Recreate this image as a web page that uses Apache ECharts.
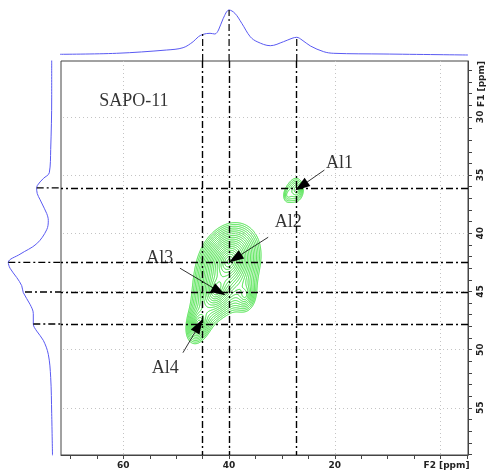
<!DOCTYPE html>
<html><head><meta charset="utf-8">
<script src="https://cdn.jsdelivr.net/npm/echarts@6/dist/echarts.min.js"></script>
<style>html,body{margin:0;padding:0;background:#fff}#c{width:487px;height:470px}</style>
</head><body><div id="c"></div>
<script>
// ---- F2 projection (top trace): chemical shift (ppm) and intensity ----
const topF2  = [72.0, 61.3, 51.8, 48.7, 46.8, 45.8, 44.9, 43.6, 42.7, 42.0, 41.1, 40.0, 38.9, 37.6, 36.0, 34.7, 32.2, 29.7, 28.1, 27.2, 26.2, 24.6, 22.1, 20.2, 10.7, -5.2];
const topInt = [0.7, 1.7, 5.0, 7.3, 13.3, 18.3, 20.7, 21.7, 21.0, 25.0, 36.7, 45.0, 41.7, 31.7, 18.3, 13.3, 9.3, 13.3, 16.7, 17.7, 15.0, 9.0, 3.3, 1.7, 1.0, 0.0];
// ---- F1 projection (left trace) ----
const leftF1  = [25.1, 28.3, 32.8, 34.8, 35.3, 35.9, 36.2, 36.3, 37.4, 38.3, 38.9, 39.7, 40.9, 41.8, 42.5, 43.0, 43.8, 44.5, 45.1, 46.1, 46.9, 47.8, 48.4, 49.2, 50.4, 52.4, 55.5, 59.1];
const leftInt = [0.8, 0.8, 1.8, 3.2, 9.2, 15.2, 15.8, 15.8, 10.8, 5.8, 4.2, 5.8, 15.8, 32.5, 44.2, 42.5, 35.8, 30.8, 29.2, 22.5, 19.2, 19.2, 15.8, 9.2, 4.2, 1.8, 0.8, 0.0];
// ---- 2D cross peaks ----
const peakF2  = [40.0, 42.3, 45.8, 37.0, 27.2, 28.9];
const peakF1  = [42.4, 44.8, 47.8, 45.3, 36.25, 36.7];
const peakAmp = [1.0, 0.5, 0.25, 0.15, 0.11, 0.06];
const peakWF2 = [1.8, 1.5, 1.15, 1.2, 1.1, 1.0];
const peakWF1 = [1.0, 0.95, 0.85, 0.85, 0.8, 0.7];
const peakRho = [0.2, 0.3, 0.3, 0.0, 0.0, 0.2];
const contourBase = 0.05, contourFactor = 1.17, contourCount = 22;
// ---- reference (dash-dot) lines ----
const vLineF2  = [45, 40, 27.2];
const vLineTop = [21, 45, 17.5];
const hLineF1   = [36.1, 42.5, 45.05, 47.8];
const hLineLeft = [15.8, 44.2, 27.5, 19.2];
// ---- axes ----
const xMajor = [60, 40, 20, 0];
const xMinor = [70, 65, 60, 55, 50, 45, 40, 35, 30, 25, 20, 15, 10, 5, 0, -5];
const yMajor = [30, 35, 40, 45, 50, 55];
const yMinor = [26,27,28,29,30,31,32,33,34,35,36,37,38,39,40,41,42,43,44,45,46,47,48,49,50,51,52,53,54,55,56,57,58,59];
// ---- annotations ----
const labelText = ['Al1', 'Al2', 'Al3', 'Al4', 'SAPO-11'];
const labelF2   = [19.1, 28.8, 53.1, 52.1, 58.0];
const labelF1   = [33.97, 39.05, 42.16, 51.64, 28.62];
const arrowTailF2 = [21.97, 32.6, 49.3, 48.73];
const arrowTailF1 = [34.57, 40.34, 43.0, 50.26];
const arrowTipF2  = [26.34, 38.86, 41.9, 45.7];
const arrowTipF1  = [35.95, 42.16, 45.0, 47.93];

const X0 = -5.2, X1 = 71.8, Y0 = 25.2, Y1 = 59.05;

// ---- intensity field and contour tracing ----
function field(x, y) {
  let s = 0;
  for (let k = 0; k < peakF2.length; k++) {
    const u = (x - peakF2[k]) / peakWF2[k], v = (y - peakF1[k]) / peakWF1[k], r = peakRho[k];
    const d2 = (u*u + v*v - 2*r*u*v) / (1 - r*r);
    s += peakAmp[k] * Math.exp(-Math.sqrt(d2 + 0.09) + 0.3);
  }
  return s;
}
const gx0 = 22, gx1 = 53, gy0 = 32, gy1 = 54, dx = 0.07, dy = 0.045;
const nx = Math.round((gx1 - gx0) / dx) + 1, ny = Math.round((gy1 - gy0) / dy) + 1;
const V = [];
for (let j = 0; j < ny; j++) { const row = new Float64Array(nx); for (let i = 0; i < nx; i++) row[i] = field(gx0 + i*dx, gy0 + j*dy); V.push(row); }

function contour(L) {
  const pts = {}, adj = {};
  const link = (a, b) => { (adj[a] = adj[a] || []).push(b); (adj[b] = adj[b] || []).push(a); };
  const interp = (xa, ya, va, xb, yb, vb) => { const t = (L - va) / (vb - va); return [xa + t*(xb - xa), ya + t*(yb - ya)]; };
  for (let j = 0; j < ny - 1; j++) {
    const y = gy0 + j*dy, yt = y + dy;
    for (let i = 0; i < nx - 1; i++) {
      const x = gx0 + i*dx, xr = x + dx;
      const v0 = V[j][i], v1 = V[j][i+1], v2 = V[j+1][i+1], v3 = V[j+1][i];
      const b0 = v0 > L, b1 = v1 > L, b2 = v2 > L, b3 = v3 > L;
      const idx = (b0?1:0) | (b1?2:0) | (b2?4:0) | (b3?8:0);
      if (idx === 0 || idx === 15) continue;
      const e = [];
      const k0 = 'h'+i+'_'+j, k1 = 'v'+(i+1)+'_'+j, k2 = 'h'+i+'_'+(j+1), k3 = 'v'+i+'_'+j;
      if (b0 !== b1) { pts[k0] = interp(x, y, v0, xr, y, v1); e.push(k0); }
      if (b1 !== b2) { pts[k1] = interp(xr, y, v1, xr, yt, v2); e.push(k1); }
      if (b3 !== b2) { pts[k2] = interp(x, yt, v3, xr, yt, v2); e.push(k2); }
      if (b0 !== b3) { pts[k3] = interp(x, y, v0, x, yt, v3); e.push(k3); }
      if (e.length === 2) link(e[0], e[1]);
      else if (e.length === 4) {
        const c = (v0 + v1 + v2 + v3) / 4 > L;
        if ((idx === 5) === c) { link(k0, k1); link(k2, k3); } else { link(k3, k0); link(k1, k2); }
      }
    }
  }
  const seen = new Set(), lines = [];
  const walk = (start) => {
    const line = [pts[start]]; seen.add(start); let cur = start;
    while (true) {
      let next = null;
      for (const n of adj[cur]) if (!seen.has(n)) { next = n; break; }
      if (next === null) { if (adj[cur].includes(start) && line.length > 2) line.push(pts[start]); break; }
      seen.add(next); line.push(pts[next]); cur = next;
    }
    lines.push(line);
  };
  const keys = Object.keys(adj);
  for (const k of keys) if (adj[k].length === 1 && !seen.has(k)) walk(k);
  for (const k of keys) if (!seen.has(k)) walk(k);
  return lines;
}
const contourData = [];
for (let n = 0; n < contourCount; n++) {
  const L = contourBase * Math.pow(contourFactor, n);
  for (const line of contour(L)) contourData.push({ coords: line });
}

// ---- build series ----
const dashDot = [7, 3, 2, 3];
const markGridX = xMajor.map(v => ({ xAxis: v }));
const markGridY = yMajor.map(v => ({ yAxis: v }));
const refX = vLineF2.map(v => ({ xAxis: v }));
const refY = hLineF1.map(v => ({ yAxis: v }));
const arrows = arrowTipF2.map((_, i) => [
  { coord: [arrowTailF2[i], arrowTailF1[i]], symbol: 'none' },
  { coord: [arrowTipF2[i], arrowTipF1[i]], symbol: 'triangle', symbolSize: [10, 15] }
]);

const series = [];
series.push({ type: 'line', xAxisIndex: 0, yAxisIndex: 0, data: [], silent: true,
  markLine: { silent: true, symbol: 'none', label: { show: false }, animation: false,
    lineStyle: { type: [1, 3], color: '#c4c4c4', width: 1 }, data: markGridX.concat(markGridY) } });
series.push({ type: 'lines', coordinateSystem: 'cartesian2d', xAxisIndex: 0, yAxisIndex: 0, polyline: true, silent: true,
  lineStyle: { color: '#33e033', width: 1, opacity: 1 }, data: contourData, z: 3 });
series.push({ type: 'line', xAxisIndex: 0, yAxisIndex: 0, data: [], silent: true, z: 4,
  markLine: { silent: true, symbol: 'none', label: { show: false }, animation: false,
    lineStyle: { type: dashDot, color: '#000', width: 1.4 }, data: refX.concat(refY) } });
series.push({ type: 'line', xAxisIndex: 0, yAxisIndex: 0, data: [], silent: true, z: 5,
  markLine: { silent: true, label: { show: false }, animation: false,
    lineStyle: { type: 'solid', color: '#000', width: 0.8 }, itemStyle: { color: '#000' }, data: arrows } });
series.push({ type: 'scatter', xAxisIndex: 0, yAxisIndex: 0, symbolSize: 0, silent: true, z: 6,
  data: labelText.map((t, i) => ({ value: [labelF2[i], labelF1[i]], name: t })),
  label: { show: true, position: 'inside', formatter: p => p.name, color: '#000',
    fontFamily: 'Liberation Serif', fontSize: 18 } });
// projections
series.push({ type: 'line', xAxisIndex: 1, yAxisIndex: 1, showSymbol: false, smooth: 0.35, silent: true,
  data: topF2.map((v, i) => [v, topInt[i]]), lineStyle: { color: '#5a5af2', width: 1 } });
series.push({ type: 'line', xAxisIndex: 2, yAxisIndex: 2, showSymbol: false, smooth: 0.35, silent: true,
  data: leftF1.map((v, i) => [leftInt[i], v]), lineStyle: { color: '#5a5af2', width: 1 } });
// reference line continuations into projections
vLineF2.forEach((v, i) => series.push({ type: 'line', xAxisIndex: 1, yAxisIndex: 1, showSymbol: false, silent: true,
  data: [[v, -6], [v, vLineTop[i]]], lineStyle: { type: dashDot, color: '#000', width: 1.2 } }));
hLineF1.forEach((v, i) => series.push({ type: 'line', xAxisIndex: 2, yAxisIndex: 2, showSymbol: false, silent: true,
  data: [[hLineLeft[i], v], [-8.5, v]], lineStyle: { type: dashDot, color: '#000', width: 1.4 } }));

const axisFont = { fontFamily: 'DejaVu Sans', fontSize: 9, fontWeight: 'bold', color: '#222' };
const option = {
  animation: false,
  backgroundColor: '#fff',
  grid: [
    { left: 61, top: 61, width: 407, height: 394, show: true, borderColor: '#444', borderWidth: 1 },
    { left: 61, top: 0, width: 407, height: 61 },
    { left: 0, top: 61, width: 61, height: 394 }
  ],
  xAxis: [
    { gridIndex: 0, type: 'value', min: X0, max: X1, inverse: true, position: 'bottom',
      axisLine: { show: true, onZero: false, lineStyle: { color: '#444' } },
      axisTick: { show: true, customValues: xMinor, length: 4, lineStyle: { color: '#444' } },
      axisLabel: Object.assign({ customValues: xMajor, margin: 6,
        formatter: v => v === 0 ? '{u|F2 [ppm]}' : String(v),
        rich: { u: { fontFamily: 'DejaVu Sans', fontSize: 9, fontWeight: 'bold', color: '#222', padding: [0, 0, 0, 12] } } }, axisFont),
      splitLine: { show: false } },
    { gridIndex: 1, type: 'value', min: X0, max: X1, inverse: true, show: false },
    { gridIndex: 2, type: 'value', min: -8.5, max: 52.5, inverse: true, show: false }
  ],
  yAxis: [
    { gridIndex: 0, type: 'value', min: Y0, max: Y1, inverse: true, position: 'right',
      axisLine: { show: true, onZero: false, lineStyle: { color: '#444' } },
      axisTick: { show: true, customValues: yMinor, length: 4, lineStyle: { color: '#444' } },
      axisLabel: Object.assign({ customValues: yMajor, rotate: 90, margin: 8 }, axisFont),
      splitLine: { show: false } },
    { gridIndex: 1, type: 'value', min: -6, max: 55, show: false },
    { gridIndex: 2, type: 'value', min: Y0, max: Y1, inverse: true, show: false }
  ],
  graphic: [
    { type: 'text', x: 482, y: 84, rotation: Math.PI / 2, silent: true,
      style: { text: 'F1 [ppm]', align: 'center', verticalAlign: 'middle', fill: '#222',
        font: 'bold 9px "DejaVu Sans"' } }
  ],
  series: series
};
const chart = echarts.init(document.getElementById('c'), null, { renderer: 'canvas' });
chart.setOption(option);
</script>
</body></html>
